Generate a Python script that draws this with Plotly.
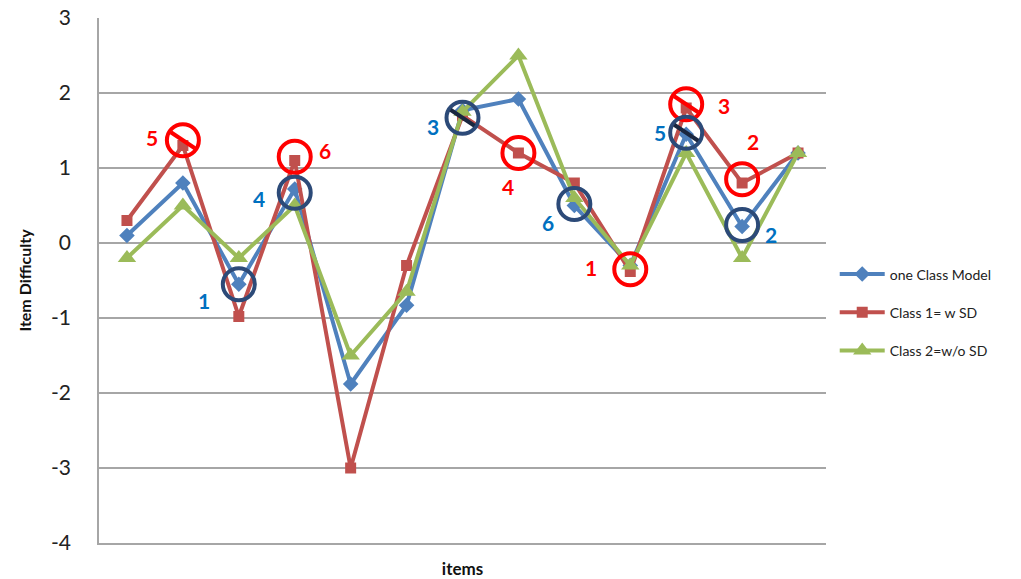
import plotly.graph_objects as go

# Item difficulty estimates for 13 items under three models
items = list(range(1, 14))
one_class = [0.1, 0.8, -0.55, 0.72, -1.88, -0.83, 1.77, 1.92, 0.5, -0.3, 1.45, 0.22, 1.2]
class1_wsd = [0.3, 1.3, -0.98, 1.1, -3.0, -0.3, 1.7, 1.2, 0.8, -0.38, 1.8, 0.8, 1.2]
class2_wosd = [-0.2, 0.5, -0.2, 0.5, -1.5, -0.65, 1.75, 2.5, 0.6, -0.3, 1.2, -0.2, 1.2]

y_ticks = [3, 2, 1, 0, -1, -2, -3, -4]

# Ranked highlights for Class 1 (red) and the one-class model (navy)
red_items = [2, 4, 8, 10, 11, 12]
red_centers = [1.37, 1.15, 1.2, -0.35, 1.85, 0.85]
red_slashed = [True, False, False, False, True, False]
red_ranks = ["5", "6", "4", "1", "3", "2"]
red_label_x = [1.45, 4.54, 7.82, 9.3, 11.68, 12.2]
red_label_y = [1.41, 1.24, 0.75, -0.33, 1.84, 1.35]

navy_items = [3, 4, 7, 9, 11, 12]
navy_centers = [-0.55, 0.67, 1.67, 0.52, 1.47, 0.24]
navy_slashed = [False, False, True, False, True, False]
navy_ranks = ["1", "4", "3", "6", "5", "2"]
navy_label_x = [2.38, 3.36, 6.48, 8.52, 10.54, 12.52]
navy_label_y = [-0.76, 0.6, 1.55, 0.27, 1.47, 0.12]

FONT = "Lato, Calibri, sans-serif"
BLUE, RED, GREEN = "#4F81BD", "#C0504D", "#9BBB59"
CIRCLE_RED, CIRCLE_NAVY = "#FF0000", "#2C4A78"
RANK_RED, RANK_BLUE = "#FF0000", "#0070C0"

fig = go.Figure()
fig.add_trace(go.Scatter(
    x=items, y=one_class, name="one Class Model", mode="lines+markers",
    legendgroup="a",
    line=dict(color=BLUE, width=4),
    marker=dict(symbol="diamond", size=12, color=BLUE)))
fig.add_trace(go.Scatter(
    x=items, y=class1_wsd, name="Class 1= w SD", mode="lines+markers",
    legendgroup="b",
    line=dict(color=RED, width=4),
    marker=dict(symbol="square", size=11, color=RED)))
fig.add_trace(go.Scatter(
    x=items, y=class2_wosd, name="Class 2=w/o SD", mode="lines+markers",
    legendgroup="c",
    line=dict(color=GREEN, width=4),
    marker=dict(symbol="triangle-up", size=16, color=GREEN)))

shapes = []
annotations = []


def ring(item, yc, color, slashed, slash_color):
    shapes.append(dict(
        type="circle", xref="x", yref="y",
        xsizemode="pixel", ysizemode="pixel",
        xanchor=item, yanchor=yc,
        x0=-16, x1=16, y0=-16, y1=16,
        line=dict(color=color, width=4)))
    if slashed:
        shapes.append(dict(
            type="line", xref="x", yref="y",
            xsizemode="pixel", ysizemode="pixel",
            xanchor=item, yanchor=yc,
            x0=-12, x1=12, y0=8, y1=-8,
            line=dict(color=slash_color, width=4)))


for it, yc, sl in zip(red_items, red_centers, red_slashed):
    ring(it, yc, CIRCLE_RED, sl, CIRCLE_RED)
for it, yc, sl in zip(navy_items, navy_centers, navy_slashed):
    ring(it, yc, CIRCLE_NAVY, sl, "#1A2740")

for txt, lx, ly in zip(red_ranks, red_label_x, red_label_y):
    annotations.append(dict(x=lx, y=ly, xref="x", yref="y", text=txt,
                            showarrow=False,
                            font=dict(family=FONT, size=21, color=RANK_RED, weight="bold")))
for txt, lx, ly in zip(navy_ranks, navy_label_x, navy_label_y):
    annotations.append(dict(x=lx, y=ly, xref="x", yref="y", text=txt,
                            showarrow=False,
                            font=dict(family=FONT, size=21, color=RANK_BLUE, weight="bold")))

fig.update_layout(
    width=1021, height=579,
    margin=dict(l=99, r=195, t=18, b=36, autoexpand=False),
    paper_bgcolor="white", plot_bgcolor="white",
    font=dict(family=FONT, color="#222222"),
    shapes=shapes, annotations=annotations,
    showlegend=True,
    legend=dict(x=1.012, y=0.542, xanchor="left", yanchor="top",
                font=dict(family=FONT, size=14, color="#222222"),
                tracegroupgap=17, itemwidth=45,
                bgcolor="rgba(0,0,0,0)"),
    xaxis=dict(range=[0.5, 13.5], showticklabels=False, ticks="",
               showgrid=False, zeroline=False, automargin=False,
               showline=True, linecolor="#A6A6A6", linewidth=1.5,
               title=dict(text="items", standoff=19,
                          font=dict(family=FONT, size=17, color="#111111", weight="bold"))),
    yaxis=dict(range=[-4, 3], tickvals=y_ticks, ticktext=[str(v) for v in y_ticks],
               ticks="", ticklabelstandoff=22, automargin=False,
               tickfont=dict(family=FONT, size=21, color="#222222"),
               showgrid=True, gridcolor="#A6A6A6", gridwidth=1.5,
               zeroline=False,
               showline=True, linecolor="#A6A6A6", linewidth=1.5,
               title=dict(text="Item Difficulty", standoff=15,
                          font=dict(family=FONT, size=16, color="#111111", weight="bold"))),
)

fig.write_html("out.html")
